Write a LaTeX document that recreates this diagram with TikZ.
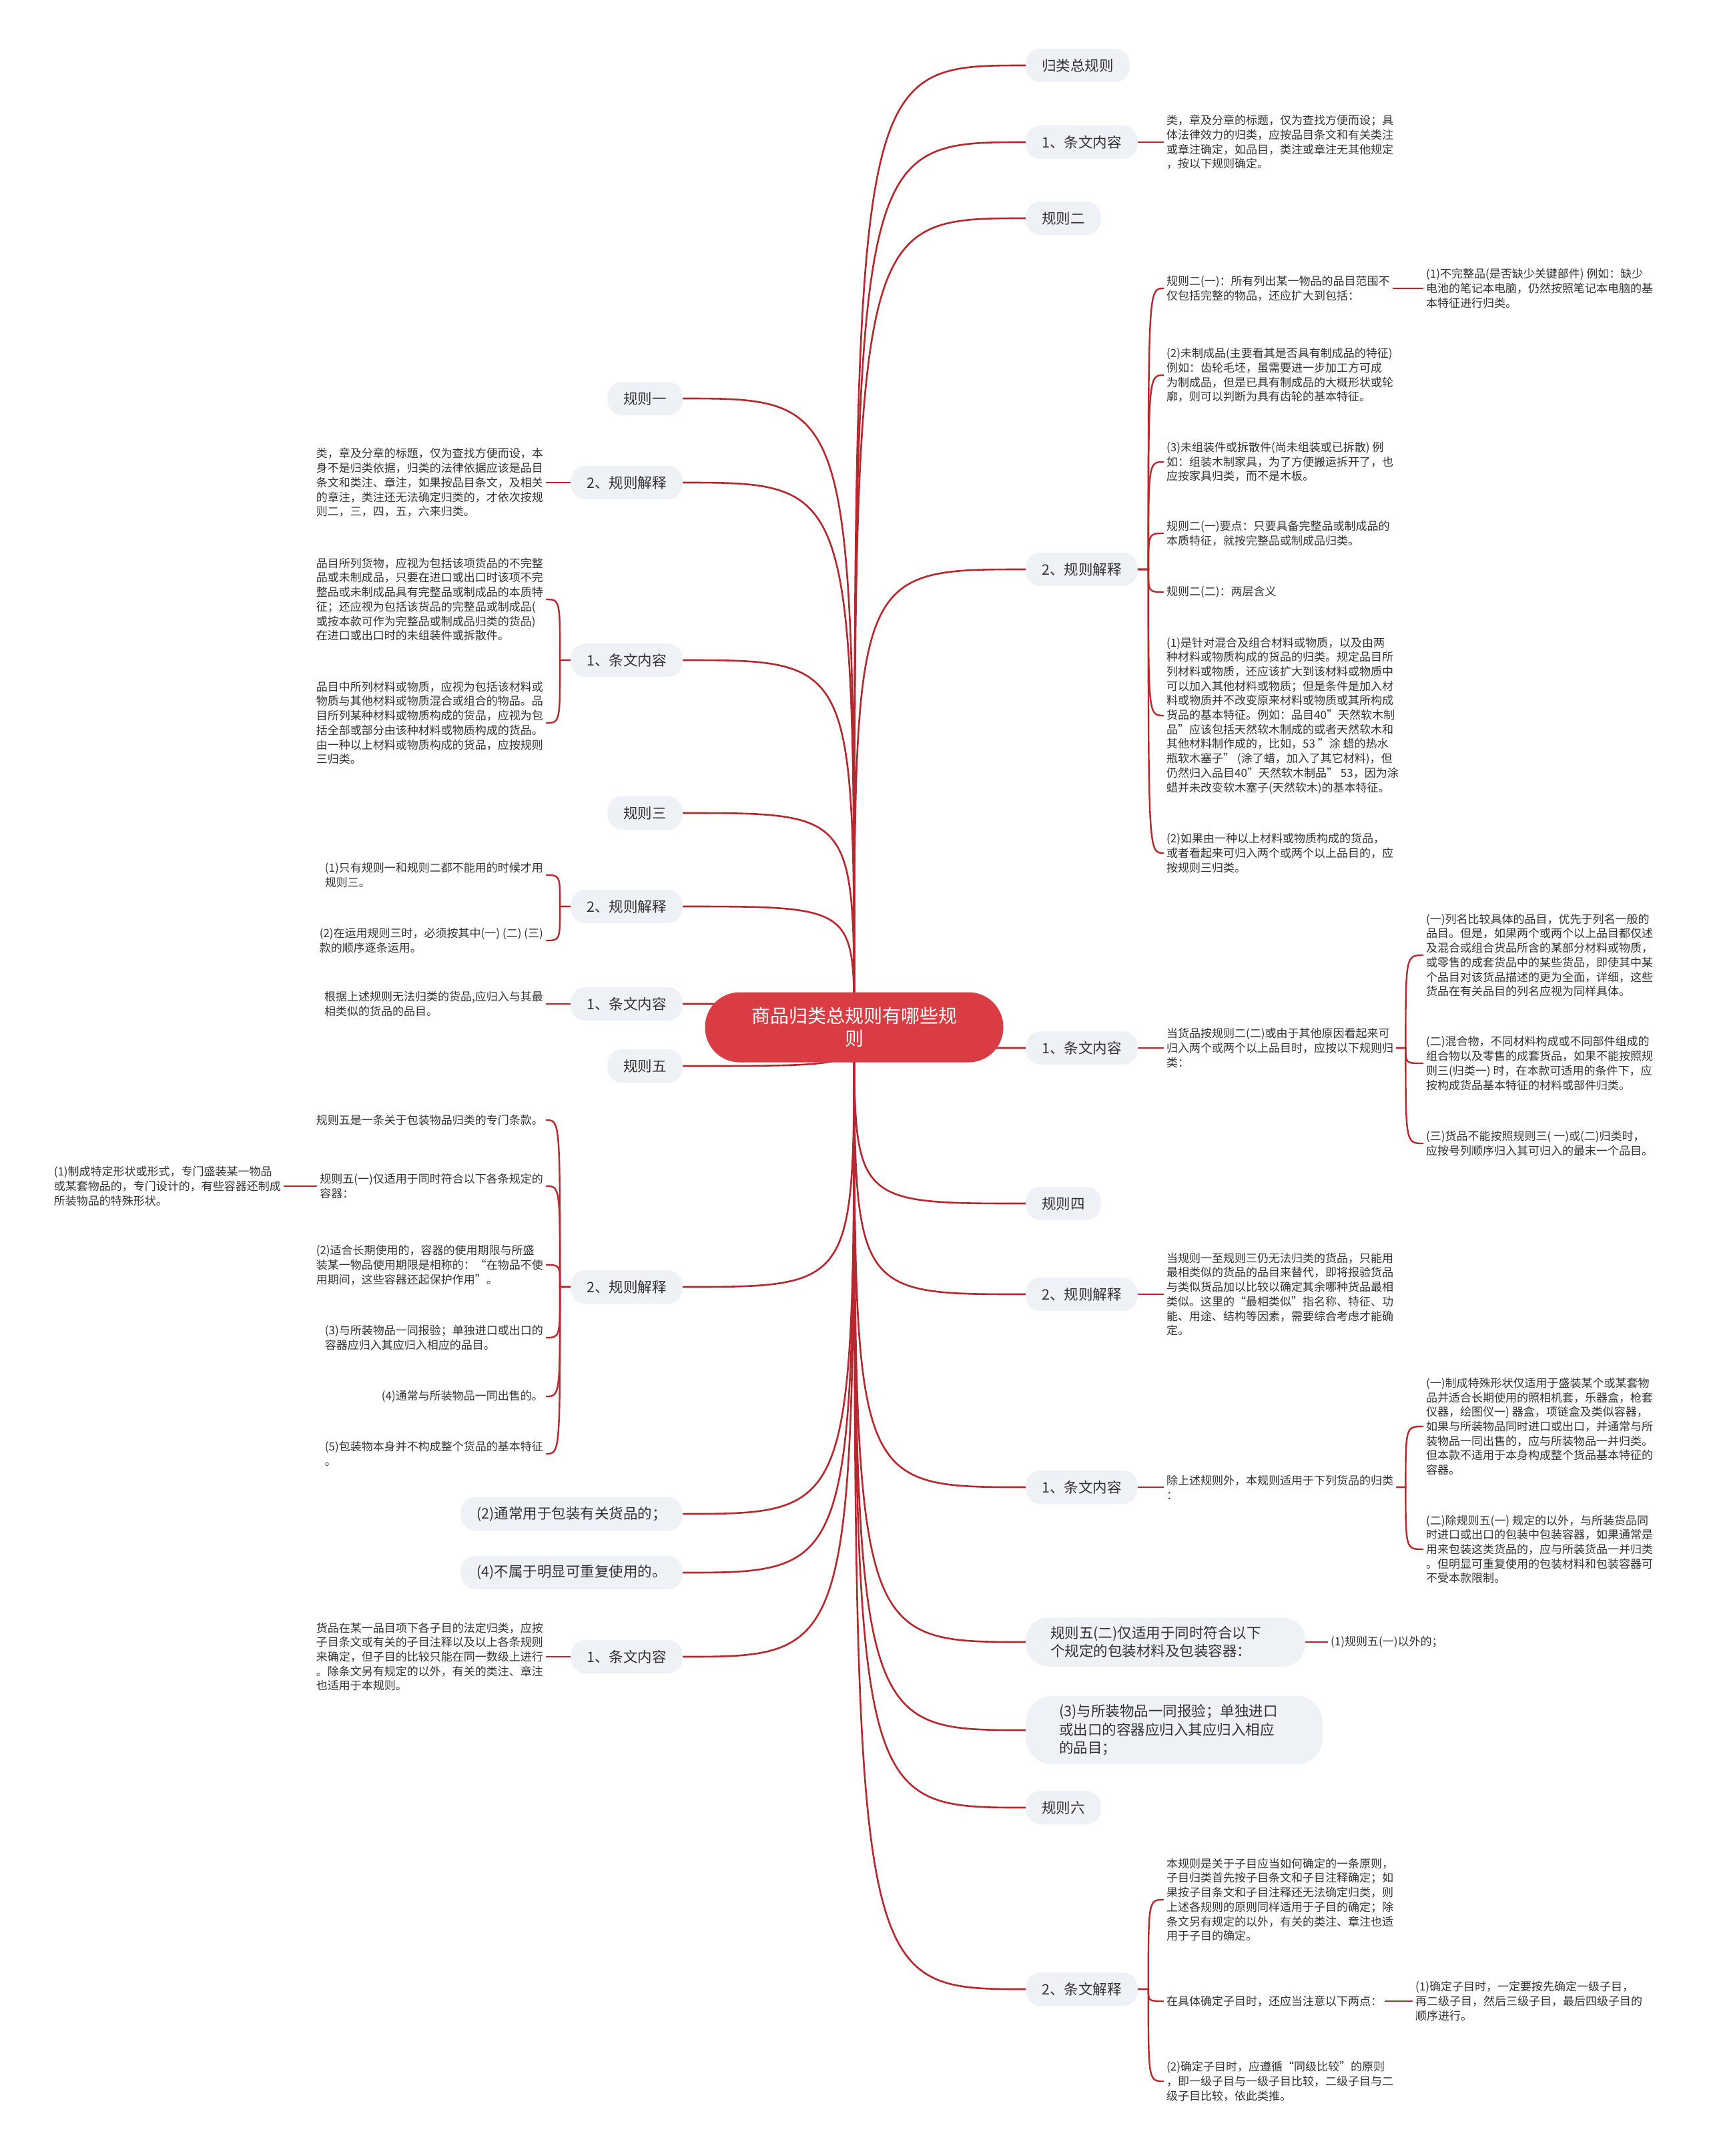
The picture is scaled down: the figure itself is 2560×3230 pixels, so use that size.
\documentclass[tikz,border=0pt]{standalone}
\usepackage{fontspec}
\setmainfont{Noto Sans CJK SC}
\usetikzlibrary{backgrounds}
\definecolor{rootred}{RGB}{218,60,68}
\definecolor{linkred}{RGB}{184,38,46}
\definecolor{boxgray}{RGB}{238,241,245}
\definecolor{ink}{RGB}{51,51,51}

\begin{document}
\begin{tikzpicture}[x=1pt,y=-1pt,
  root/.style={fill=rootred,text=white,rounded corners=52pt,minimum width=447pt,minimum height=105pt,align=center,font={\fontsize{28pt}{34pt}\selectfont}},
  topic/.style={fill=boxgray,text=ink,rounded corners=22pt,minimum height=50pt,inner xsep=24pt,inner ysep=6pt,font={\fontsize{21.5pt}{27.5pt}\selectfont}},
  wide/.style={topic,align=left,text width=345pt,inner xsep=37pt,inner ysep=13pt,rounded corners=34pt},
  leaf/.style={text=ink,align=left,inner sep=4pt,font={\fontsize{17pt}{21.7pt}\selectfont}},
  branch/.style={draw=linkred,line width=2.6pt},
  twig/.style={draw=linkred,line width=2.4pt}]
\useasboundingbox (0,0) rectangle (2560,3230);

\node[root] (root) at (1280,1539) {商品归类总规则有哪些规\\则};

%right side
\node[topic,anchor=west] (r1) at (1537,98) {归类总规则};
\node[topic,anchor=west] (r2) at (1537,213) {1、条文内容};
\node[topic,anchor=west] (r3) at (1537,327) {规则二};
\node[topic,anchor=west] (r4) at (1537,853) {2、规则解释};
\node[topic,anchor=west] (r5) at (1537,1570) {1、条文内容};
\node[topic,anchor=west] (r6) at (1537,1803) {规则四};
\node[topic,anchor=west] (r7) at (1537,1939) {2、规则解释};
\node[topic,anchor=west] (r8) at (1537,2228) {1、条文内容};
\node[wide,anchor=west] (r9) at (1537,2460) {规则五(二)仅适用于同时符合以下\\个规定的包装材料及包装容器：};
\node[wide,anchor=west,inner xsep=50pt,rounded corners=40pt] (r10) at (1537,2592) {(3)与所装物品一同报验；单独进口\\或出口的容器应归入其应归入相应\\的品目；};
\node[topic,anchor=west] (r11) at (1537,2708) {规则六};
\node[topic,anchor=west] (r12) at (1537,2980) {2、条文解释};

\node[leaf,anchor=west] (r2a) at (1744,213) {类，章及分章的标题，仅为查找方便而设；具\\体法律效力的归类，应按品目条文和有关类注\\或章注确定，如品目，类注或章注无其他规定\\，按以下规则确定。};

\node[leaf,anchor=west] (r4a) at (1744,432) {规则二(一)：所有列出某一物品的品目范围不\\仅包括完整的物品，还应扩大到包括：};
\node[leaf,anchor=west] (r4a1) at (2133,432) {(1)不完整品(是否缺少关键部件) 例如：缺少\\电池的笔记本电脑，仍然按照笔记本电脑的基\\本特征进行归类。};
\node[leaf,anchor=west] (r4b) at (1744,562) {(2)未制成品(主要看其是否具有制成品的特征)\\例如：齿轮毛坯，虽需要进一步加工方可成\\为制成品，但是已具有制成品的大概形状或轮\\廓，则可以判断为具有齿轮的基本特征。};
\node[leaf,anchor=west] (r4c) at (1744,692) {(3)未组装件或拆散件(尚未组装或已拆散) 例\\如：组装木制家具，为了方便搬运拆开了，也\\应按家具归类，而不是木板。};
\node[leaf,anchor=west] (r4d) at (1744,799) {规则二(一)要点：只要具备完整品或制成品的\\本质特征，就按完整品或制成品归类。};
\node[leaf,anchor=west] (r4e) at (1744,887) {规则二(二)：两层含义};
\node[leaf,anchor=west] (r4f) at (1744,1072) {(1)是针对混合及组合材料或物质，以及由两\\种材料或物质构成的货品的归类。规定品目所\\列材料或物质，还应该扩大到该材料或物质中\\可以加入其他材料或物质；但是条件是加入材\\料或物质并不改变原来材料或物质或其所构成\\货品的基本特征。例如：品目40"天然软木制\\品"应该包括天然软木制成的或者天然软木和\\其他材料制作成的，比如，53 "涂 蜡的热水\\瓶软木塞子" (涂了蜡，加入了其它材料)，但\\仍然归入品目40"天然软木制品" 53，因为涂\\蜡并未改变软木塞子(天然软木)的基本特征。};
\node[leaf,anchor=west] (r4g) at (1744,1278) {(2)如果由一种以上材料或物质构成的货品，\\或者看起来可归入两个或两个以上品目的，应\\按规则三归类。};

\node[leaf,anchor=west] (r5a) at (1744,1570) {当货品按规则二(二)或由于其他原因看起来可\\归入两个或两个以上品目时，应按以下规则归\\类：};
\node[leaf,anchor=west] (r5a1) at (2133,1431) {(一)列名比较具体的品目，优先于列名一般的\\品目。但是，如果两个或两个以上品目都仅述\\及混合或组合货品所含的某部分材料或物质，\\或零售的成套货品中的某些货品，即使其中某\\个品目对该货品描述的更为全面，详细，这些\\货品在有关品目的列名应视为同样具体。};
\node[leaf,anchor=west] (r5a2) at (2133,1593) {(二)混合物，不同材料构成或不同部件组成的\\组合物以及零售的成套货品，如果不能按照规\\则三(归类一) 时，在本款可适用的条件下，应\\按构成货品基本特征的材料或部件归类。};
\node[leaf,anchor=west] (r5a3) at (2133,1713) {(三)货品不能按照规则三( 一)或(二)归类时，\\应按号列顺序归入其可归入的最末一个品目。};

\node[leaf,anchor=west] (r7a) at (1744,1939) {当规则一至规则三仍无法归类的货品，只能用\\最相类似的货品的品目来替代，即将报验货品\\与类似货品加以比较以确定其余哪种货品最相\\类似。这里的“最相类似”指名称、特征、功\\能、用途、结构等因素，需要综合考虑才能确\\定。};

\node[leaf,anchor=west] (r8a) at (1744,2228) {除上述规则外，本规则适用于下列货品的归类\\：};
\node[leaf,anchor=west] (r8a1) at (2133,2137) {(一)制成特殊形状仅适用于盛装某个或某套物\\品并适合长期使用的照相机套，乐器盒，枪套\\仪器，绘图仪一) 器盒，项链盒及类似容器，\\如果与所装物品同时进口或出口，并通常与所\\装物品一同出售的，应与所装物品一并归类。\\但本款不适用于本身构成整个货品基本特征的\\容器。};
\node[leaf,anchor=west] (r8a2) at (2133,2321) {(二)除规则五(一) 规定的以外，与所装货品同\\时进口或出口的包装中包装容器，如果通常是\\用来包装这类货品的，应与所装货品一并归类\\。但明显可重复使用的包装材料和包装容器可\\不受本款限制。};

\node[leaf,anchor=west] (r9a) at (1990,2460) {(1)规则五(一)以外的；};

\node[leaf,anchor=west] (r12a) at (1744,2846) {本规则是关于子目应当如何确定的一条原则，\\子目归类首先按子目条文和子目注释确定；如\\果按子目条文和子目注释还无法确定归类，则\\上述各规则的原则同样适用于子目的确定；除\\条文另有规定的以外，有关的类注、章注也适\\用于子目的确定。};
\node[leaf,anchor=west] (r12b) at (1744,2998) {在具体确定子目时，还应当注意以下两点：};
\node[leaf,anchor=west] (r12b1) at (2117,2998) {(1)确定子目时，一定要按先确定一级子目，\\再二级子目，然后三级子目，最后四级子目的\\顺序进行。};
\node[leaf,anchor=west] (r12c) at (1744,3118) {(2)确定子目时，应遵循“同级比较”的原则\\，即一级子目与一级子目比较，二级子目与二\\级子目比较，依此类推。};

%left side
\node[topic,anchor=east] (l1) at (1023,597) {规则一};
\node[topic,anchor=east] (l2) at (1023,723) {2、规则解释};
\node[topic,anchor=east] (l3) at (1023,989) {1、条文内容};
\node[topic,anchor=east] (l4) at (1023,1218) {规则三};
\node[topic,anchor=east] (l5) at (1023,1358) {2、规则解释};
\node[topic,anchor=east] (l6) at (1023,1504) {1、条文内容};
\node[topic,anchor=east] (l7) at (1023,1597) {规则五};
\node[topic,anchor=east] (l8) at (1023,1928) {2、规则解释};
\node[topic,anchor=east] (l9) at (1023,2268) {(2)通常用于包装有关货品的；};
\node[topic,anchor=east] (l10) at (1023,2356) {(4)不属于明显可重复使用的。};
\node[topic,anchor=east] (l11) at (1023,2482) {1、条文内容};

\node[leaf,anchor=east] (l2a) at (818,723) {类，章及分章的标题，仅为查找方便而设，本\\身不是归类依据，归类的法律依据应该是品目\\条文和类注、章注，如果按品目条文，及相关\\的章注，类注还无法确定归类的，才依次按规\\则二，三，四，五，六来归类。};

\node[leaf,anchor=east] (l3a) at (818,898) {品目所列货物，应视为包括该项货品的不完整\\品或未制成品，只要在进口或出口时该项不完\\整品或未制成品具有完整品或制成品的本质特\\征；还应视为包括该货品的完整品或制成品(\\或按本款可作为完整品或制成品归类的货品)\\在进口或出口时的未组装件或拆散件。};
\node[leaf,anchor=east] (l3b) at (818,1083) {品目中所列材料或物质，应视为包括该材料或\\物质与其他材料或物质混合或组合的物品。品\\目所列某种材料或物质构成的货品，应视为包\\括全部或部分由该种材料或物质构成的货品。\\由一种以上材料或物质构成的货品，应按规则\\三归类。};

\node[leaf,anchor=east] (l5a) at (818,1311) {(1)只有规则一和规则二都不能用的时候才用\\规则三。};
\node[leaf,anchor=east] (l5b) at (818,1409) {(2)在运用规则三时，必须按其中(一) (二) (三)\\款的顺序逐条运用。};

\node[leaf,anchor=east] (l6a) at (818,1504) {根据上述规则无法归类的货品,应归入与其最\\相类似的货品的品目。};

\node[leaf,anchor=east] (l8a) at (818,1678) {规则五是一条关于包装物品归类的专门条款。};
\node[leaf,anchor=east] (l8b) at (818,1777) {规则五(一)仅适用于同时符合以下各条规定的\\容器：};
\node[leaf,anchor=east] (l8b1) at (425,1777) {(1)制成特定形状或形式，专门盛装某一物品\\或某套物品的，专门设计的，有些容器还制成\\所装物品的特殊形状。};
\node[leaf,anchor=east] (l8c) at (818,1895) {(2)适合长期使用的，容器的使用期限与所盛\\装某一物品使用期限是相称的：“在物品不使\\用期间，这些容器还起保护作用”。};
\node[leaf,anchor=east] (l8d) at (818,2004) {(3)与所装物品一同报验；单独进口或出口的\\容器应归入其应归入相应的品目。};
\node[leaf,anchor=east] (l8e) at (818,2092) {(4)通常与所装物品一同出售的。};
\node[leaf,anchor=east] (l8f) at (818,2178) {(5)包装物本身并不构成整个货品的基本特征\\。};

\node[leaf,anchor=east] (l11a) at (818,2482) {货品在某一品目项下各子目的法定归类，应按\\子目条文或有关的子目注释以及以上各条规则\\来确定，但子目的比较只能在同一数级上进行\\。除条文另有规定的以外，有关的类注、章注\\也适用于本规则。};

\begin{pgfonlayer}{background}
\fill[white] (0,0) rectangle (2560,3230);
%branches from the root
\draw[branch] (root.center) .. controls (root.center |- r1.west) .. (r1.west);
\draw[branch] (root.center) .. controls (root.center |- r2.west) .. (r2.west);
\draw[branch] (root.center) .. controls (root.center |- r3.west) .. (r3.west);
\draw[branch] (root.center) .. controls (root.center |- r4.west) .. (r4.west);
\draw[branch] (root.center) .. controls (root.center |- r5.west) .. (r5.west);
\draw[branch] (root.center) .. controls (root.center |- r6.west) .. (r6.west);
\draw[branch] (root.center) .. controls (root.center |- r7.west) .. (r7.west);
\draw[branch] (root.center) .. controls (root.center |- r8.west) .. (r8.west);
\draw[branch] (root.center) .. controls (root.center |- r9.west) .. (r9.west);
\draw[branch] (root.center) .. controls (root.center |- r10.west) .. (r10.west);
\draw[branch] (root.center) .. controls (root.center |- r11.west) .. (r11.west);
\draw[branch] (root.center) .. controls (root.center |- r12.west) .. (r12.west);
\draw[branch] (root.center) .. controls (root.center |- l1.east) .. (l1.east);
\draw[branch] (root.center) .. controls (root.center |- l2.east) .. (l2.east);
\draw[branch] (root.center) .. controls (root.center |- l3.east) .. (l3.east);
\draw[branch] (root.center) .. controls (root.center |- l4.east) .. (l4.east);
\draw[branch] (root.center) .. controls (root.center |- l5.east) .. (l5.east);
\draw[branch] (root.center) .. controls (root.center |- l6.east) .. (l6.east);
\draw[branch] (root.center) .. controls (root.center |- l7.east) .. (l7.east);
\draw[branch] (root.center) .. controls (root.center |- l8.east) .. (l8.east);
\draw[branch] (root.center) .. controls (root.center |- l9.east) .. (l9.east);
\draw[branch] (root.center) .. controls (root.center |- l10.east) .. (l10.east);
\draw[branch] (root.center) .. controls (root.center |- l11.east) .. (l11.east);
%right twigs
\draw[twig] (r2.east) -- (r2a.west);
\draw[twig] (r4.east) -- ++(16,0) coordinate (k) .. controls (k |- r4a.west) .. (r4a.west);
\draw[twig] (r4.east) -- ++(16,0) coordinate (k) .. controls (k |- r4b.west) .. (r4b.west);
\draw[twig] (r4.east) -- ++(16,0) coordinate (k) .. controls (k |- r4c.west) .. (r4c.west);
\draw[twig] (r4.east) -- ++(16,0) coordinate (k) .. controls (k |- r4d.west) .. (r4d.west);
\draw[twig] (r4.east) -- ++(16,0) coordinate (k) .. controls (k |- r4e.west) .. (r4e.west);
\draw[twig] (r4.east) -- ++(16,0) coordinate (k) .. controls (k |- r4f.west) .. (r4f.west);
\draw[twig] (r4.east) -- ++(16,0) coordinate (k) .. controls (k |- r4g.west) .. (r4g.west);
\draw[twig] (r4a.east) -- (r4a1.west);
\draw[twig] (r5.east) -- (r5a.west);
\draw[twig] (r5a.east) -- ++(14,0) coordinate (k) .. controls (k |- r5a1.west) .. (r5a1.west);
\draw[twig] (r5a.east) -- ++(14,0) coordinate (k) .. controls (k |- r5a2.west) .. (r5a2.west);
\draw[twig] (r5a.east) -- ++(14,0) coordinate (k) .. controls (k |- r5a3.west) .. (r5a3.west);
\draw[twig] (r7.east) -- (r7a.west);
\draw[twig] (r8.east) -- (r8a.west);
\draw[twig] (r8a.east) -- ++(14,0) coordinate (k) .. controls (k |- r8a1.west) .. (r8a1.west);
\draw[twig] (r8a.east) -- ++(14,0) coordinate (k) .. controls (k |- r8a2.west) .. (r8a2.west);
\draw[twig] (r9.east) -- (r9a.west);
\draw[twig] (r12.east) -- ++(16,0) coordinate (k) .. controls (k |- r12a.west) .. (r12a.west);
\draw[twig] (r12.east) -- ++(16,0) coordinate (k) .. controls (k |- r12b.west) .. (r12b.west);
\draw[twig] (r12.east) -- ++(16,0) coordinate (k) .. controls (k |- r12c.west) .. (r12c.west);
\draw[twig] (r12b.east) -- (r12b1.west);
%left twigs
\draw[twig] (l2.west) -- (l2a.east);
\draw[twig] (l3.west) -- ++(-16,0) coordinate (k) .. controls (k |- l3a.east) .. (l3a.east);
\draw[twig] (l3.west) -- ++(-16,0) coordinate (k) .. controls (k |- l3b.east) .. (l3b.east);
\draw[twig] (l5.west) -- ++(-16,0) coordinate (k) .. controls (k |- l5a.east) .. (l5a.east);
\draw[twig] (l5.west) -- ++(-16,0) coordinate (k) .. controls (k |- l5b.east) .. (l5b.east);
\draw[twig] (l6.west) -- (l6a.east);
\draw[twig] (l8.west) -- ++(-16,0) coordinate (k) .. controls (k |- l8a.east) .. (l8a.east);
\draw[twig] (l8.west) -- ++(-16,0) coordinate (k) .. controls (k |- l8b.east) .. (l8b.east);
\draw[twig] (l8.west) -- ++(-16,0) coordinate (k) .. controls (k |- l8c.east) .. (l8c.east);
\draw[twig] (l8.west) -- ++(-16,0) coordinate (k) .. controls (k |- l8d.east) .. (l8d.east);
\draw[twig] (l8.west) -- ++(-16,0) coordinate (k) .. controls (k |- l8e.east) .. (l8e.east);
\draw[twig] (l8.west) -- ++(-16,0) coordinate (k) .. controls (k |- l8f.east) .. (l8f.east);
\draw[twig] (l8b.west) -- (l8b1.east);
\draw[twig] (l11.west) -- (l11a.east);
\end{pgfonlayer}

\end{tikzpicture}
\end{document}
